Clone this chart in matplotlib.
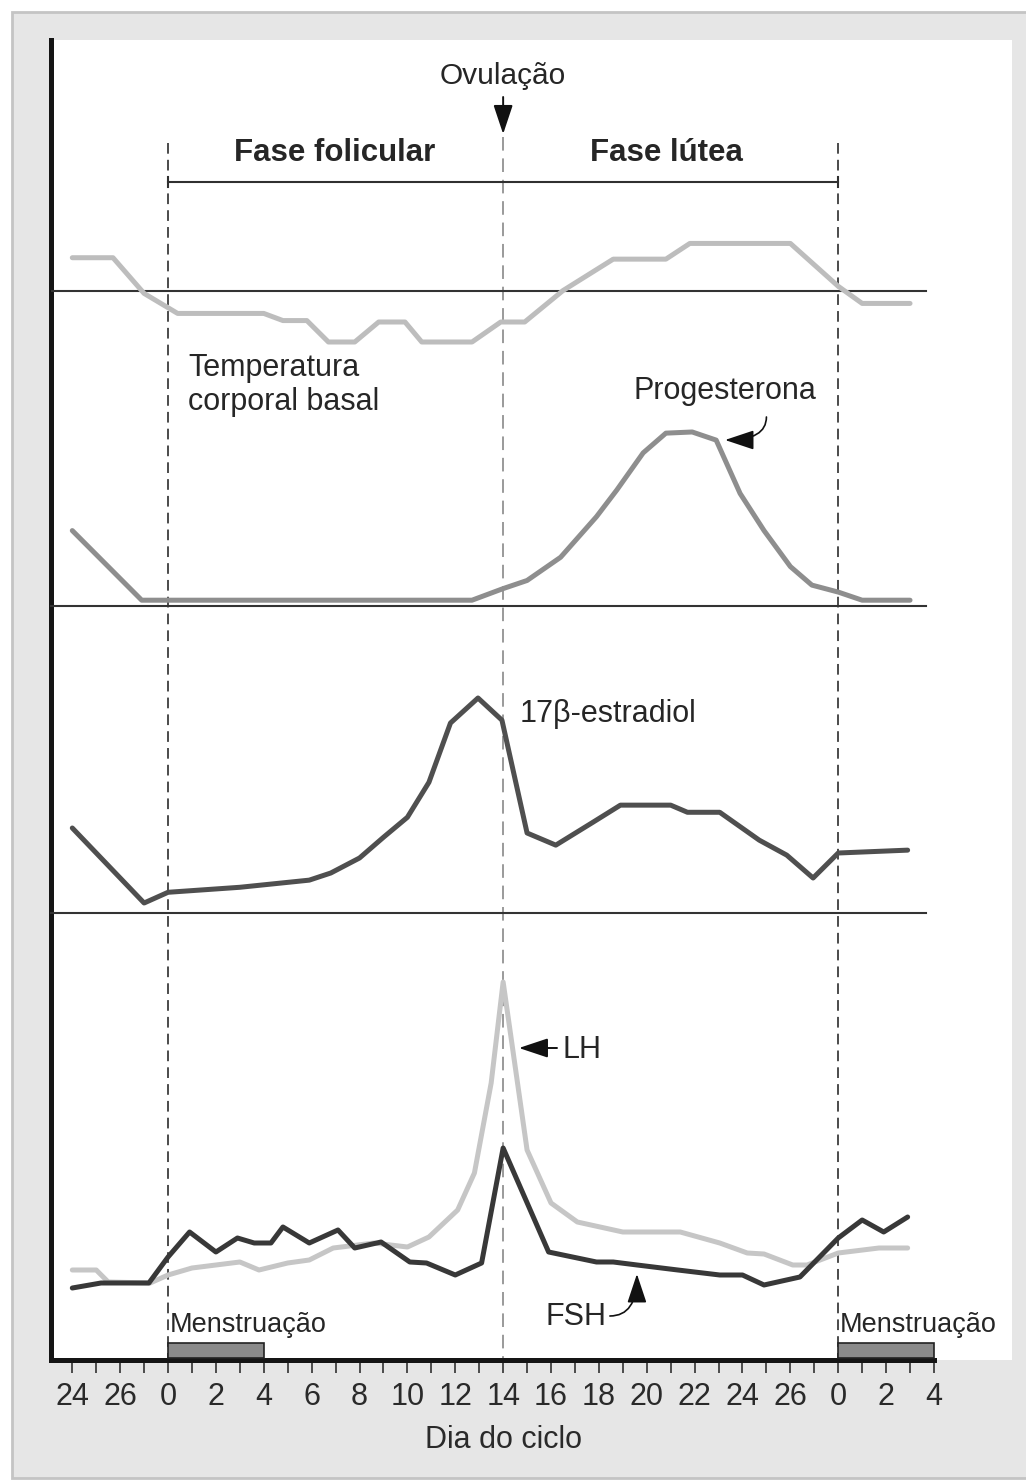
import matplotlib
matplotlib.use("Agg")
import matplotlib.pyplot as plt
from matplotlib.patches import Rectangle

plt.rcParams['font.family'] = ['Liberation Sans', 'DejaVu Sans']

# ---- data -----------------------------------------------------------------
tick_days = list(range(-4, 33, 2))
tick_labels = ["24", "26", "0", "2", "4", "6", "8", "10", "12", "14",
               "16", "18", "20", "22", "24", "26", "0", "2", "4"]
minor_days = list(range(-4, 33))

# basal body temperature (°C)
temp_days = [-4.0, -2.3, -1.0, 0.0, 0.4, 4.0, 4.8, 5.8, 6.7, 7.8, 8.8, 9.9,
             10.6, 12.7, 13.9, 14.9, 16.5, 18.6, 20.8, 21.8, 26.0, 28.0, 29.0, 31.0]
temp_vals = [36.89, 36.89, 36.64, 36.54, 36.50, 36.50, 36.45, 36.45, 36.30, 36.30,
             36.44, 36.44, 36.30, 36.30, 36.44, 36.44, 36.66, 36.88, 36.88, 36.99,
             36.99, 36.69, 36.57, 36.57]
temp_ref = 36.66

# progesterone (ng/mL)
prog_days = [-4.0, -1.1, 12.7, 14.0, 15.0, 16.4, 17.9, 18.75, 19.85, 20.8, 21.9,
             22.9, 23.9, 24.9, 26.0, 26.9, 28.0, 29.0, 31.0]
prog_vals = [6.5, 0.5, 0.5, 1.5, 2.2, 4.2, 7.7, 10.0, 13.2, 14.9, 15.0,
             14.3, 9.7, 6.5, 3.4, 1.8, 1.2, 0.5, 0.5]

# 17β-estradiol (pg/mL)
estr_days = [-4.0, -1.0, 0.0, 3.0, 5.9, 6.8, 8.0, 9.0, 10.0, 10.9, 11.8, 12.95,
             13.95, 15.0, 16.2, 17.75, 18.9, 21.0, 21.7, 23.05, 24.7, 25.85,
             26.95, 28.0, 30.9]
estr_vals = [119, 14, 29, 36, 46, 56, 77, 106, 134, 183, 266, 301,
             270, 112, 95, 127, 151, 151, 141, 141, 102, 81, 49, 84, 88]

# gonadotropins (mUI/mL)
lh_days = [-4, -3, -2.5, -0.75, 0, 1, 3, 3.8, 5, 5.9, 6.9, 8.6, 10, 10.9, 12.1,
           12.8, 13.5, 14, 15, 16, 17.1, 19, 21.4, 23.05, 24.2, 24.9, 26.1,
           26.7, 28, 29.7, 30.9]
lh_vals = [18.0, 18.0, 15.6, 15.4, 17.0, 18.4, 19.6, 18.0, 19.4, 20.0, 22.4,
           23.4, 22.6, 24.6, 30.0, 37.4, 55.4, 75.6, 42.0, 31.4, 27.6, 25.6,
           25.6, 23.4, 21.4, 21.2, 19.0, 19.0, 21.4, 22.4, 22.4]
fsh_days = [-4, -2.8, -0.8, 0, 0.9, 2, 2.9, 3.6, 4.3, 4.8, 5.9, 7.1, 7.8, 8.9,
            10.1, 10.8, 12, 13.1, 14, 15.9, 17.9, 18.6, 19.6, 21.3, 23.05, 24,
            24.9, 26.4, 28, 29, 29.9, 30.9]
fsh_vals = [14.4, 15.4, 15.4, 20.6, 25.6, 21.6, 24.4, 23.4, 23.4, 26.6, 23.4,
            26.0, 22.4, 23.6, 19.6, 19.4, 17.0, 19.4, 42.4, 21.6, 19.6, 19.6,
            19.0, 18.0, 17.0, 17.0, 15.0, 16.6, 24.4, 28.0, 25.6, 28.6]

menses = [(0, 4), (28, 32)]

# ---- layout -----------------------------------------------------------------
W, H = 1026, 1483
fig = plt.figure(figsize=(W / 100, H / 100), dpi=100)
fig.patch.set_facecolor("white")

fig.add_artist(Rectangle((12 / W, 1 - 1478 / H), 1.0, (1478 - 12) / H,
                         transform=fig.transFigure, facecolor="#e6e6e6",
                         edgecolor="#c4c4c4", lw=2.0, zorder=-5))


def rect(l, t, r, b):
    return [l / W, 1 - b / H, (r - l) / W, (b - t) / H]


XL, XR = -4.89, 35.26
ax = fig.add_axes(rect(51, 40, 1012, 1360))
ax.set_facecolor("white")
ax.set_xlim(XL, XR)
ax.set_ylim(1360, 40)
for s in ("top", "right"):
    ax.spines[s].set_visible(False)
ax.spines["left"].set_linewidth(3.6)
ax.spines["left"].set_color("#151515")
ax.spines["bottom"].set_linewidth(3.6)
ax.spines["bottom"].set_color("#151515")
ax.spines["bottom"].set_bounds(XL, 32)
ax.set_yticks([])
ax.set_xticks(tick_days)
ax.set_xticklabels(tick_labels)
ax.set_xticks(minor_days, minor=True)
ax.tick_params(axis="x", which="both", length=9.5, width=1.1, color="#222222",
               direction="out")
ax.tick_params(axis="x", which="major", labelsize=22, pad=6,
               labelcolor="#2a2a2a")
ax.text(14, 1440, "Dia do ciclo", ha="center", va="center", fontsize=22,
        color="#2a2a2a", clip_on=False)

TXT = "#262626"
HEAD = "-|>,head_length=0.9,head_width=0.3"

# cycle markers
ax.plot([0, 0], [143, 1360], color="#1a1a1a", lw=1.1, ls=(0, (7, 4)))
ax.plot([28, 28], [143, 1360], color="#1a1a1a", lw=1.1, ls=(0, (7, 4)))
ax.plot([14, 14], [137, 1360], color="#9a9a9a", lw=1.4, ls=(0, (7, 4)))

# phase bar
ax.plot([0, 28], [182, 182], color="#303030", lw=1.5)
ax.plot([0, 0], [177, 187], color="#303030", lw=1.5)
ax.plot([28, 28], [177, 187], color="#303030", lw=1.5)
ax.text(6.98, 153, "Fase folicular", ha="center", va="center", fontsize=22.5,
        fontweight="bold", color=TXT)
ax.text(20.84, 153, "Fase lútea", ha="center", va="center", fontsize=22.5,
        fontweight="bold", color=TXT)

# ovulation
ax.text(14, 76, "Ovulação", ha="center", va="center", fontsize=21.5, color=TXT)
ax.annotate("", xy=(14, 134), xytext=(14, 97),
            arrowprops=dict(arrowstyle=HEAD, color="#111111", lw=1.4,
                            mutation_scale=20, shrinkA=0, shrinkB=0))

# menstruation bars
for a, b in menses:
    ax.add_patch(Rectangle((a, 1343), b - a, 15, facecolor="#8a8a8a",
                           edgecolor="#222222", lw=1.2, zorder=3))
    ax.text(a + 0.08, 1325, "Menstruação", ha="left", va="center",
            fontsize=19.5, color=TXT)


# ---- hormone bands ---------------------------------------------------------
def band(top, bottom, y0, per_px):
    b = fig.add_axes(rect(51, top, 1012, bottom), sharex=ax)
    b.set_ylim(y0, y0 + (bottom - top) * per_px)
    b.set_axis_off()
    b.patch.set_visible(False)
    return b


line_kw = dict(lw=3.6, solid_capstyle="round", solid_joinstyle="round")
sep_kw = dict(color="#333333", lw=1.5)

a_t = band(200, 360, 36.174, 0.007)
a_t.plot([XL, 31.65], [temp_ref, temp_ref], **sep_kw)
a_t.plot(temp_days, temp_vals, color="#bdbdbd", **line_kw)

a_p = band(380, 606, 0.0, 0.0862)
a_p.plot([XL, 31.65], [0, 0], clip_on=False, **sep_kw)
a_p.plot(prog_days, prog_vals, color="#8e8e8e", **line_kw)

a_e = band(620, 913, 0.0, 1.4)
a_e.plot([XL, 31.65], [0, 0], clip_on=False, **sep_kw)
a_e.plot(estr_days, estr_vals, color="#4f4f4f", **line_kw)

a_g = band(913, 1360, 0.0, 0.2)
a_g.plot(lh_days, lh_vals, color="#c6c6c6", **line_kw)
a_g.plot(fsh_days, fsh_vals, color="#383838", **line_kw)

# curve labels
ax.text(0.84, 385, "Temperatura\ncorporal basal", ha="left", va="center",
        fontsize=22, color=TXT, linespacing=1.15)
ax.text(23.27, 391, "Progesterona", ha="center", va="center", fontsize=22,
        color=TXT)
ax.annotate("", xy=(23.27, 440), xytext=(25.0, 417),
            arrowprops=dict(arrowstyle=HEAD, color="#111111", lw=1.2,
                            mutation_scale=20, shrinkA=0, shrinkB=0,
                            connectionstyle="angle3,angleA=-90,angleB=0"),
            zorder=6)
ax.text(14.7, 714, "17β-estradiol", ha="left", va="center", fontsize=22,
        color=TXT)
ax.annotate("", xy=(14.66, 1048), xytext=(16.25, 1048),
            arrowprops=dict(arrowstyle=HEAD, color="#111111", lw=1.4,
                            mutation_scale=20, shrinkA=0, shrinkB=0), zorder=6)
ax.text(16.46, 1050, "LH", ha="left", va="center", fontsize=22, color=TXT)
ax.text(15.75, 1317, "FSH", ha="left", va="center", fontsize=22, color=TXT)
ax.annotate("", xy=(19.59, 1274), xytext=(18.46, 1316),
            arrowprops=dict(arrowstyle=HEAD, color="#111111", lw=1.2,
                            mutation_scale=20, shrinkA=0, shrinkB=0,
                            connectionstyle="angle3,angleA=0,angleB=90"),
            zorder=6)

fig.savefig("out.png", dpi=100, facecolor=fig.get_facecolor())
